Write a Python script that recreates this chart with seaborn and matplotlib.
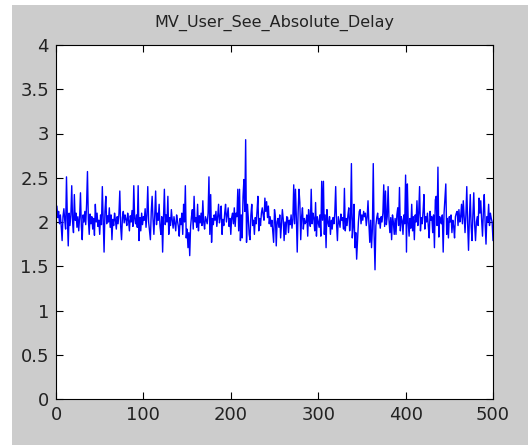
import numpy as np
import pandas as pd
import matplotlib
matplotlib.use("Agg")
import matplotlib.pyplot as plt
import seaborn as sns
from matplotlib.patches import Rectangle

title = "MV_User_See_Absolute_Delay"
x_ticks = [0, 100, 200, 300, 400, 500]
y_ticks = [0, 0.5, 1, 1.5, 2, 2.5, 3, 3.5, 4]
y_tick_labels = ["0", "0.5", "1", "1.5", "2", "2.5", "3", "3.5", "4"]

delay = [
    2.18, 2.05, 2.12, 1.98, 2.08, 1.95, 1.79, 2.06, 2.15, 2.02,
    1.92, 2.51, 2.04, 1.73, 2.10, 1.96, 2.08, 2.41, 2.00, 1.88,
    2.31, 2.02, 2.10, 1.94, 2.06, 1.90, 2.05, 2.33, 1.95, 1.80,
    2.08, 2.00, 2.12, 1.97, 2.20, 2.57, 2.03, 1.86, 2.09, 1.98,
    2.06, 1.92, 2.04, 1.85, 2.20, 2.00, 2.10, 1.95, 2.02, 1.86,
    2.08, 1.97, 2.40, 2.05, 1.66, 2.12, 2.29, 1.98, 2.07, 2.00,
    2.16, 1.94, 2.08, 1.80, 2.03, 1.96, 2.10, 2.02, 1.92, 2.06,
    1.98, 2.09, 2.35, 1.95, 1.80, 2.05, 2.12, 1.99, 2.08, 2.03,
    1.96, 2.10, 2.02, 1.90, 2.07, 2.00, 2.13, 1.95, 2.41, 2.04,
    1.98, 2.08, 1.94, 2.41, 1.79, 2.05, 1.90, 2.10, 1.97, 2.06,
    2.02, 2.15, 1.94, 2.08, 2.40, 2.00, 1.90, 1.80, 2.12, 2.29,
    2.03, 1.86, 2.08, 2.35, 1.97, 2.10, 2.02, 2.20, 1.95, 1.86,
    2.06, 1.66, 2.05, 2.37, 1.97, 2.08, 2.00, 2.29, 1.86, 2.05,
    1.96, 2.14, 2.02, 1.93, 2.06, 1.98, 1.90, 2.08, 2.01, 1.95,
    1.84, 2.04, 1.97, 2.10, 1.86, 2.20, 2.00, 2.41, 1.82, 1.92,
    1.71, 1.88, 1.62, 1.95, 2.06, 2.14, 1.92, 2.29, 2.00, 2.05,
    1.94, 2.20, 1.90, 2.07, 1.99, 2.10, 1.96, 2.24, 2.00, 1.92,
    2.06, 2.02, 1.98, 2.10, 2.51, 1.86, 2.31, 1.77, 2.04, 1.97,
    2.08, 2.02, 2.12, 1.95, 2.06, 2.20, 1.99, 2.05, 2.18, 1.86,
    2.03, 1.96, 2.10, 2.20, 2.00, 2.08, 2.16, 1.95, 2.04, 1.86,
    2.05, 2.10, 1.98, 2.16, 1.95, 2.10, 2.06, 2.37, 1.90, 2.37,
    1.79, 2.08, 1.82, 2.29, 2.48, 2.12, 2.93, 1.77, 2.20, 2.05,
    1.86, 1.80, 2.08, 2.20, 1.96, 2.02, 1.86, 2.05, 1.98, 2.12,
    2.29, 1.90, 2.04, 1.96, 2.10, 2.16, 2.08, 2.02, 2.27, 2.12,
    2.23, 2.05, 2.18, 1.98, 2.06, 1.95, 2.02, 1.90, 1.77, 2.14,
    2.06, 1.73, 2.00, 2.04, 1.94, 2.08, 1.82, 1.98, 2.14, 2.03,
    1.79, 2.00, 1.86, 2.06, 2.05, 1.88, 2.02, 1.97, 2.08, 1.93,
    2.03, 2.42, 1.98, 2.37, 2.05, 1.66, 2.10, 2.37, 2.22, 1.80,
    2.06, 2.16, 1.92, 2.04, 1.98, 2.00, 2.08, 1.84, 2.14, 2.02,
    1.95, 2.37, 1.98, 2.10, 2.04, 1.90, 2.22, 1.84, 2.06, 2.00,
    1.94, 2.08, 1.84, 2.46, 2.02, 2.46, 1.86, 2.08, 1.71, 2.14,
    2.00, 1.95, 2.06, 1.86, 2.02, 1.92, 2.05, 1.98, 2.10, 2.40,
    1.98, 1.79, 2.06, 2.00, 1.94, 2.09, 2.02, 2.05, 1.92, 2.38,
    1.90, 2.04, 1.96, 2.08, 2.16, 1.90, 2.04, 2.66, 1.82, 1.95,
    2.20, 1.71, 1.88, 1.58, 1.80, 2.00, 2.12, 2.14, 1.98, 2.08,
    2.02, 2.12, 2.06, 2.10, 1.96, 2.05, 2.24, 1.98, 1.77, 2.02,
    1.71, 1.92, 2.66, 1.85, 1.46, 1.96, 2.05, 2.10, 1.98, 2.04,
    1.93, 2.06, 2.00, 2.10, 2.42, 1.95, 2.35, 1.97, 2.06, 2.40,
    2.02, 1.88, 2.05, 1.80, 2.08, 2.00, 1.86, 2.04, 1.86, 2.08,
    2.16, 1.96, 2.39, 1.90, 2.06, 2.02, 1.86, 2.08, 1.98, 2.53,
    1.66, 2.43, 2.00, 1.84, 2.04, 1.93, 2.20, 1.90, 2.06, 1.80,
    2.08, 2.00, 2.24, 1.96, 2.10, 2.40, 1.90, 2.05, 1.98, 2.12,
    2.31, 1.92, 2.06, 2.00, 2.10, 1.95, 1.82, 2.12, 2.02, 2.06,
    1.88, 2.08, 1.71, 2.25, 2.29, 1.96, 2.62, 1.83, 2.06, 2.00,
    1.98, 2.08, 1.66, 2.10, 2.27, 2.43, 1.86, 2.04, 1.82, 2.06,
    2.00, 2.08, 1.88, 2.02, 1.95, 1.82, 2.06, 2.10, 2.12, 1.96,
    2.14, 2.00, 2.06, 2.20, 1.98, 2.24, 2.05, 1.88, 2.08, 2.40,
    1.98, 1.68, 2.05, 2.31, 1.95, 1.79, 2.08, 2.33, 1.97, 1.79,
    2.00, 2.06, 1.96, 2.27, 2.10, 2.24, 2.02, 1.84, 2.12, 2.31,
    1.98, 1.75, 2.06, 2.00, 2.20, 1.96, 2.10, 2.04, 2.00, 1.79,
]
sample = list(range(1, len(delay) + 1))

df = pd.DataFrame({"sample": sample, "delay": delay})

sns.set_style("ticks")
plt.rcParams["font.family"] = ["DejaVu Sans"]

W, H = 528, 445
fig = plt.figure(figsize=(W / 100, H / 100), dpi=100, facecolor="white")
fig.patches.append(Rectangle((12 / W, 0), 1 - 12 / W, 1 - 5 / H,
                             transform=fig.transFigure, facecolor="#cccccc",
                             edgecolor="none", zorder=-10))
ax = fig.add_axes([56 / W, (H - 399) / H, (493 - 56) / W, (399 - 45) / H])
ax.set_facecolor("white")

sns.lineplot(data=df, x="sample", y="delay", ax=ax, color="#0000ff",
             linewidth=1.0, estimator=None)

ax.set_xlim(0, 500)
ax.set_ylim(0, 4)
ax.set_xticks(x_ticks)
ax.set_yticks(y_ticks)
ax.set_yticklabels(y_tick_labels)
ax.set_xlabel("")
ax.set_ylabel("")
ax.set_title(title, fontsize=11.5, color="#222222", pad=13)

for s in ax.spines.values():
    s.set_visible(True)
    s.set_color("black")
    s.set_linewidth(0.8)
ax.tick_params(direction="in", length=5, width=0.8, top=True, right=True,
               labelsize=13, colors="black", labelcolor="#222222", pad=5)

fig.savefig("out.png", dpi=100, facecolor=fig.get_facecolor())
